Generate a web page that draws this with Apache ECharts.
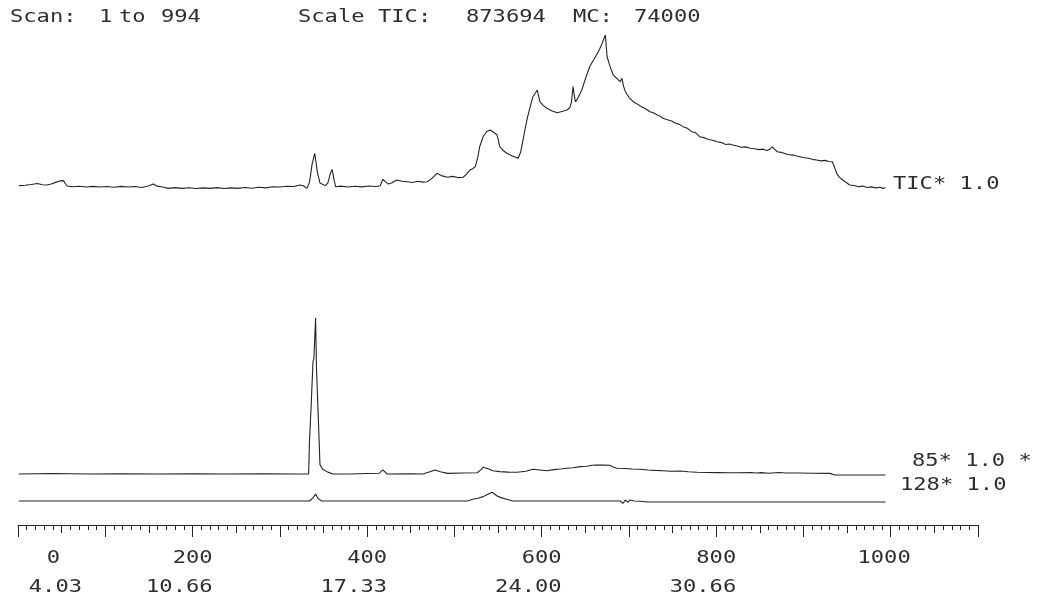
<!DOCTYPE html>
<html>
<head>
<meta charset="utf-8">
<title>Chromatogram</title>
<script src="https://cdn.jsdelivr.net/npm/echarts@6/dist/echarts.min.js"></script>
<style>
  html, body { margin: 0; padding: 0; background: #ffffff; }
  #chart { width: 1038px; height: 603px; }
</style>
</head>
<body>
<div id="chart"></div>
<script>
// Scan-number ruler labels and the retention times (min) printed under them
const scanTicks = [0, 200, 400, 600, 800, 1000];
const timeLabels = ['4.03', '10.66', '17.33', '24.00', '30.66', ''];

// Header fields
const headerParts = ['Scan:', '1', 'to', '994', 'Scale', 'TIC:', '873694', 'MC:', '74000'];

// Trace names with their scale factors
const traceLabels = ['TIC* 1.0', '85* 1.0 *', '128* 1.0'];

// Total ion current, [scan, % of full scale]
const ticData = [
  [1,0.9],[8,1.2],[15,1.6],[22,2.3],[28,1.5],[33,1.3],[38,2.0],[44,3.2],[48,4.0],[50,5.1],[52,4.2],[54,5.0],[56,0.7],
  [62,0.2],[70,0.5],[78,0],[86,0.4],[94,0],[102,0.3],[110,-0.2],[118,0.4],[126,0],[134,0.3],[142,-0.3],[150,0.8],
  [155,2.0],[159,0.6],[166,0],[172,-0.9],[180,-0.4],[188,-0.9],[196,-0.5],[204,-1.0],[212,-0.6],[220,-0.9],[228,-0.4],
  [236,-1.0],[244,-0.6],[252,-0.9],[260,-0.3],[268,-0.8],[276,-0.2],[284,-0.6],[292,0.2],[300,0],[308,0.5],[316,0.3],
  [323,1.3],[327,0.8],[331,-0.9],[334,3],[337,15],[340,22.2],[343,10],[346,2.6],[349,1.8],[352,0.9],[355,2.5],[358,9],
  [360,11.6],[362,5],[364,0.2],[370,0.6],[378,0],[386,0.5],[394,0.1],[402,0.7],[410,0.3],[415,0.8],[418,5.1],[421,3.5],
  [424,2.0],[428,2.6],[434,4.6],[440,3.8],[446,3.5],[452,3.0],[458,3.8],[464,3.2],[469,3.5],[474,5.5],[480,9.0],
  [485,7.5],[492,6.4],[498,7.0],[504,6.2],[510,6.4],[514,8.5],[518,11.2],[521,12],[524,13.4],[527,20],[529,26.5],
  [533,33.1],[537,36.5],[541,37.5],[545,36],[549,34.2],[552,26.5],[556,24],[560,22.2],[566,20.5],[573,18.9],[576,23],
  [578,28.9],[581,38],[584,46.3],[587,53],[590,59.4],[593,62],[595,63.8],[598,56.1],[602,53.5],[606,51.8],[612,50],
  [618,48.9],[624,49.8],[629,50.7],[632,52],[634,55.3],[636,66],[638,58],[639,56.1],[642,59],[646,63.8],[650,71],
  [655,79.1],[660,84],[665,89],[669,94],[673,100],[675,85.7],[678,80],[682,73.7],[686,71.5],[690,69.3],[692,71.5],
  [694,66],[696,62.7],[700,59],[705,56.1],[710,54.5],[714,53],[719,51.5],[724,49.5],[728,48.8],[732,47.5],[736,46.5],
  [739,45.2],[744,44.2],[749,43.4],[754,41.8],[758,41.2],[762,39.7],[767,38.6],[772,36.4],[776,35.9],[781,33.1],
  [786,32.5],[791,31.2],[796,30.8],[801,29.8],[806,29.2],[811,28.0],[815,28.3],[819,27.6],[824,27.0],[829,26.2],
  [834,26.4],[839,25.5],[844,25.2],[849,24.6],[854,24.9],[858,24.0],[862,25.0],[864,26.5],[867,24.8],[870,23.2],
  [876,22.6],[882,21.4],[888,21.0],[892,20.4],[896,19.9],[901,19.2],[906,18.9],[910,18.2],[915,17.8],[920,17.2],
  [925,17.5],[929,16.8],[933,16.6],[935,14],[938,9],[941,6.5],[945,4.6],[949,3.0],[953,1.3],[958,1.0],[963,0.2],
  [968,0.6],[973,-0.3],[978,0.1],[983,-0.6],[988,-0.2],[991,-0.9],[994,-0.5]
];

// Extracted ion m/z 85, [scan, relative abundance]
const ion85Data = [
  [1,0],[40,0.3],[80,0],[120,0.2],[160,0],[200,0.2],[240,0],[280,0.2],[320,0],[333,0],[334,21],[335,22],[336,45],
  [337,46],[338,72],[339,74],[341,100],[342,68],[344,67],[345,22],[346,6],[349,3],[355,1.2],[361,0],[380,0],[400,0.3],
  [414,0.5],[418,2.6],[423,0],[450,0.2],[464,0],[471,1.3],[478,2.6],[484,1.5],[492,0.4],[510,0.6],[526,0.8],[530,2.5],
  [533,4.3],[538,3.5],[544,2.1],[552,1.5],[562,1.2],[572,1.1],[582,1.8],[590,3],[598,2.6],[606,2.1],[614,2.8],[622,3.2],
  [629,3.7],[636,4.0],[644,4.7],[652,5.0],[658,5.6],[663,5.8],[670,5.7],[678,5.6],[682,4.5],[686,3.7],[695,3.5],
  [704,3.2],[713,3],[722,2.6],[730,2.3],[739,2.1],[748,1.8],[759,1.9],[768,1.4],[778,1.1],[790,1.0],[802,0.9],
  [815,0.8],[827,0.8],[840,1.0],[846,0.6],[852,0.9],[860,0.5],[872,1.0],[880,0.6],[895,0.6],[910,0.5],[930,0.4],
  [936,-0.6],[960,-0.6],[994,-0.6]
];

// Extracted ion m/z 128, same scale as m/z 85
const ion128Data = [
  [1,0],[100,0],[200,0],[300,0],[334,0],[338,2],[341,4.5],[344,1.5],[348,0],[420,0],[470,0],[515,0],[521,1.1],
  [527,1.8],[533,2.8],[538,4.2],[543,5.6],[546,4.5],[549,3.2],[554,2],[560,1.1],[567,0],[600,0],[650,0],[690,0],
  [693,-1.5],[696,0.5],[699,-0.8],[701,0.6],[706,0],[713,-0.2],[721,-0.6],[800,-0.6],[900,-0.6],[994,-0.6]
];

const ink = '#242424';
const textInk = '#2e2e2e';
const plotFont = '17px "DejaVu Sans Mono", "Liberation Mono", monospace';
const stretch = 1.3;

const chart = echarts.init(document.getElementById('chart'), null, { renderer: 'canvas' });

const scanAxis = (gridIndex) => ({
  type: 'value', gridIndex, min: 0, max: 1100, show: false
});
const levelAxis = (gridIndex, max) => ({
  type: 'value', gridIndex, min: 0, max, show: false
});

const trace = (name, data, axisIndex) => ({
  name, type: 'line', data,
  xAxisIndex: axisIndex, yAxisIndex: axisIndex,
  showSymbol: false, symbol: 'none', clip: false, silent: true,
  lineStyle: { color: ink, width: 1.1 }
});

// Header text positions
const headerX = [10, 99, 119, 161, 298, 378, 466, 573, 634];
// Trace name positions
const traceLabelPos = [[893, 185], [912, 462], [900, 486]];

const graphics = [];
headerParts.forEach((t, i) => {
  graphics.push({
    type: 'text', x: headerX[i], y: 18, scaleX: stretch, silent: true,
    style: { text: t, font: plotFont, fill: textInk, align: 'left', verticalAlign: 'middle' }
  });
});
traceLabels.forEach((t, i) => {
  graphics.push({
    type: 'text', x: traceLabelPos[i][0], y: traceLabelPos[i][1], scaleX: stretch, silent: true,
    style: { text: t, font: plotFont, fill: textInk, align: 'left', verticalAlign: 'middle' }
  });
});

const option = {
  animation: false,
  backgroundColor: '#ffffff',
  grid: [
    { left: 18, right: 60, top: 35, height: 152 },   // TIC
    { left: 18, right: 60, top: 318, height: 156 },  // m/z 85
    { left: 18, right: 60, top: 345, height: 156 },  // m/z 128
    { left: 18, right: 60, top: 500, height: 25 }    // scan ruler
  ],
  xAxis: [
    scanAxis(0), scanAxis(1), scanAxis(2),
    {
      type: 'value', gridIndex: 3, min: 0, max: 1100, interval: 50, position: 'bottom',
      axisLine: { show: true, lineStyle: { color: ink, width: 1.2 } },
      axisTick: { show: true, length: 8, lineStyle: { color: ink, width: 1 } },
      minorTick: { show: true, splitNumber: 5, length: 5, lineStyle: { color: ink, width: 1 } },
      axisLabel: { show: false }, splitLine: { show: false }
    },
    {
      type: 'value', gridIndex: 3, min: 0, max: 1100, interval: 100, position: 'bottom',
      axisLine: { show: false },
      axisTick: { show: true, length: 12, lineStyle: { color: ink, width: 1 } },
      axisLabel: { show: false }, splitLine: { show: false }
    }
  ],
  yAxis: [levelAxis(0, 100), levelAxis(1, 100), levelAxis(2, 100), levelAxis(3, 1)],
  series: [
    trace('TIC', ticData, 0),
    trace('85', ion85Data, 1),
    trace('128', ion128Data, 2),
    {
      // scan numbers with retention times underneath
      type: 'custom', xAxisIndex: 3, yAxisIndex: 3, silent: true, clip: false,
      data: scanTicks.map(s => [s, 0]),
      renderItem(params, api) {
        const i = params.dataIndex;
        const pt = api.coord([api.value(0), 0]);
        const first = i === 0;
        const mk = (text, dx, dy) => ({
          type: 'text', x: pt[0] + dx, y: pt[1] + dy, scaleX: stretch,
          style: { text, font: plotFont, fill: textInk, align: 'right', verticalAlign: 'middle' }
        });
        return {
          type: 'group',
          children: [
            mk(String(scanTicks[i]), first ? 42 : 20, 34),
            mk(timeLabels[i], first ? 64 : 20, 63)
          ]
        };
      }
    }
  ],
  graphic: graphics
};

chart.setOption(option);
</script>
</body>
</html>
